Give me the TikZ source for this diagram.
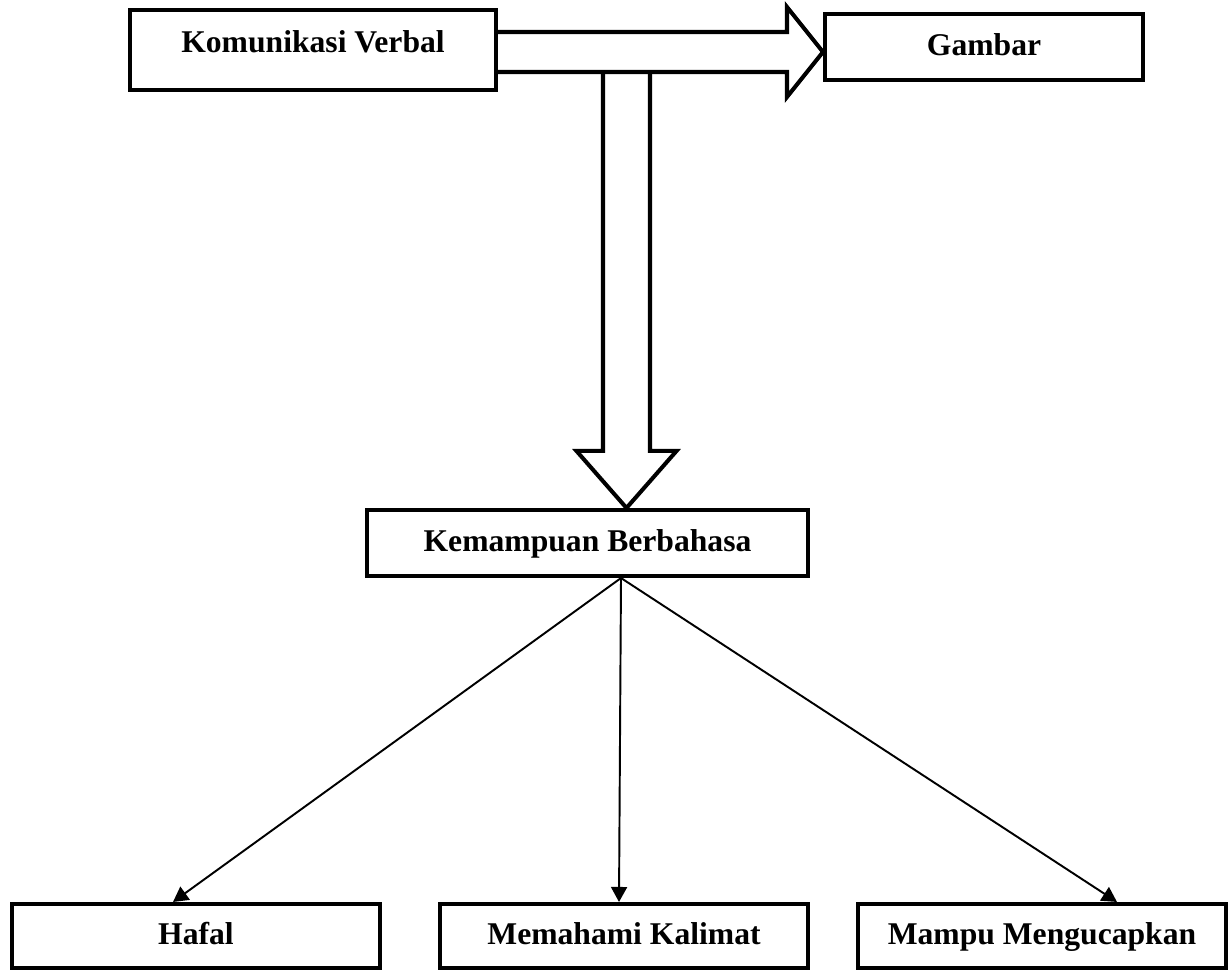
\documentclass[tikz,border=0pt]{standalone}
\usepackage{fontspec}
\setmainfont{Liberation Serif}
\usetikzlibrary{calc,arrows.meta}
\definecolor{ink}{RGB}{0, 0, 0}
\tikzset{
    konsep/.style={draw=ink, line width=2.3pt, fill=white, rectangle, inner sep=0pt,
                   text height=0.43cm, text depth=0.1cm,
                   font=\fontsize{18}{22}\selectfont\bfseries},
    panah/.style={draw=ink, line width=2.3pt, fill=white, line join=miter},
    garis/.style={draw=ink, line width=1.1pt, -{Triangle[length=0.3cm,width=0.32cm]}}
}
\begin{document}
\begin{tikzpicture}
            \useasboundingbox                                             ( 0.00, 0.00) rectangle (24.64,-19.44);
            \node[konsep, minimum width=7.32cm, minimum height=1.60cm, text depth=0.31cm] (kv) at ( 6.26, -1.00) {Komunikasi Verbal};
            \node[konsep, minimum width=6.36cm, minimum height=1.32cm]    (gb) at (19.68, -0.94) {Gambar};
            \node[konsep, minimum width=8.82cm, minimum height=1.32cm]    (kb) at (11.75,-10.86) {Kemampuan Berbahasa};
            \node[konsep, minimum width=7.36cm, minimum height=1.28cm]    (hf) at ( 3.92,-18.72) {Hafal};
            \node[konsep, minimum width=7.36cm, minimum height=1.28cm]    (mk) at (12.48,-18.72) {Memahami Kalimat};
            \node[konsep, minimum width=7.36cm, minimum height=1.28cm]    (mu) at (20.84,-18.72) {Mampu Mengucapkan};
            \coordinate (htip)  at ($(gb.west)+(0,-0.10)$);
            \coordinate (hbase) at (kv.east |- htip);
            \coordinate (vtop)  at (12.53,-1.44);
            \coordinate (vtip)  at (vtop |- kb.north);
            \coordinate (kbout) at ($(kb.south)+(0.67,0)$);
            \coordinate (hfin)  at ($(hf.north)+(-0.46,0)$);
            \coordinate (mkin)  at ($(mk.north)+(-0.10,0)$);
            \coordinate (muin)  at ($(mu.north)+( 1.50,0)$);
            \draw[panah] ($(vtop)+(-0.47,0)$) -- ($(vtip)+(-0.47,1.14)$) -- ($(vtip)+(-1.00,1.14)$) -- (vtip)
                         -- ($(vtip)+(1.00,1.14)$) -- ($(vtip)+(0.47,1.14)$) -- ($(vtop)+(0.47,0)$);
            \draw[panah] ($(hbase)+(0,0.40)$) -- ($(htip)+(-0.72,0.40)$) -- ($(htip)+(-0.72,0.90)$) -- (htip)
                         -- ($(htip)+(-0.72,-0.90)$) -- ($(htip)+(-0.72,-0.40)$) -- ($(hbase)+(0,-0.40)$);
            \draw[garis] (kbout) -- (hfin);
            \draw[garis] (kbout) -- (mkin);
            \draw[garis] (kbout) -- (muin);
        \end{tikzpicture}
\end{document}
